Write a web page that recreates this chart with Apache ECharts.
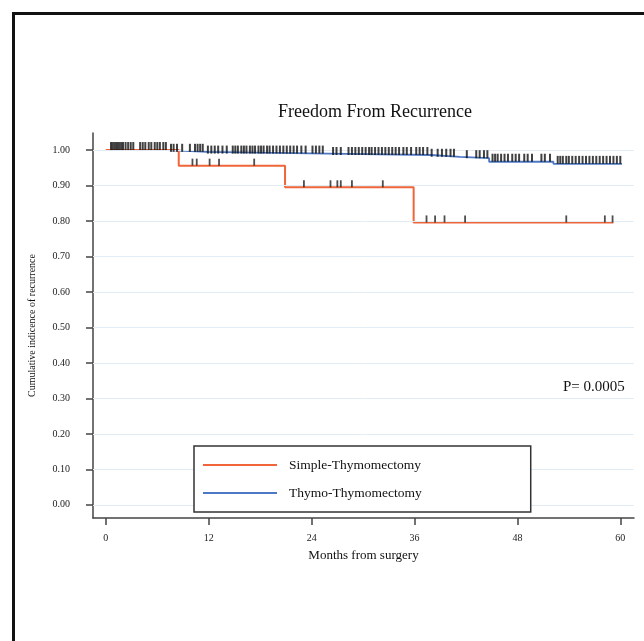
<!DOCTYPE html>
<html>
<head>
<meta charset="utf-8">
<script src="https://cdn.jsdelivr.net/npm/echarts@6/dist/echarts.min.js"></script>
<style>
html,body{margin:0;padding:0;background:#fff;}
#chart{width:644px;height:641px;}
</style>
</head>
<body>
<div id="chart"></div>
<script>
// ---- data ----
const monthTicks = [0, 12, 24, 36, 48, 60];
const yTicks = [0.0, 0.1, 0.2, 0.3, 0.4, 0.5, 0.6, 0.7, 0.8, 0.9, 1.0];

const simpleName = 'Simple-Thymomectomy';
const simpleTimes = [0, 8.5, 20.9, 35.9, 59.2];
const simpleSurv  = [1.0, 0.956, 0.895, 0.796, 0.796];
const simpleCensor = [10.1, 10.6, 12.1, 13.2, 17.3, 23.1, 26.2, 27.0, 27.4, 28.7, 32.3,
  37.4, 38.4, 39.5, 41.9, 53.7, 58.2, 59.1];

const thymoName = 'Thymo-Thymomectomy';
const thymoTimes = [0, 7.2, 11.8, 25.9, 37.9, 41.3, 44.7, 52.2, 60.2];
const thymoSurv  = [1.0, 0.995, 0.990, 0.986, 0.981, 0.977, 0.967, 0.961, 0.961];
const thymoCensor = [0.6, 0.8, 1.0, 1.2, 1.4, 1.6, 1.8, 2.0, 2.3, 2.6, 2.9, 3.2,
  4.0, 4.3, 4.6, 5.0, 5.3, 5.7, 6.0, 6.3, 6.7, 7.0,
  7.6, 7.9, 8.3, 8.9, 9.8,
  10.4, 10.7, 11.0, 11.3, 11.9, 12.3, 12.7, 13.1, 13.6, 14.1,
  14.8, 15.1, 15.4, 15.8, 16.1, 16.4, 16.8, 17.1, 17.4, 17.8, 18.1, 18.4, 18.8, 19.1,
  19.5, 19.9, 20.3, 20.7, 21.1, 21.5, 21.9, 22.3, 22.8, 23.3,
  24.1, 24.5, 24.9, 25.3, 26.5, 26.9, 27.4,
  28.3, 28.7, 29.1, 29.5, 29.9, 30.3, 30.7, 31.0, 31.4, 31.8, 32.2, 32.6, 33.0, 33.4,
  33.8, 34.2, 34.7, 35.1, 35.6, 36.2, 36.6, 37.0, 37.5, 38.0,
  38.7, 39.2, 39.7, 40.2, 40.6, 42.1, 43.2, 43.6, 44.1, 44.5, 45.1, 45.4, 45.7,
  46.1, 46.5, 46.9, 47.4, 47.8, 48.2, 48.8, 49.2, 49.7, 50.8, 51.2, 51.8,
  52.7, 53.0, 53.3, 53.7, 54.0, 54.4, 54.8, 55.2, 55.6, 56.0, 56.4, 56.8, 57.2,
  57.6, 58.0, 58.4, 58.8, 59.2, 59.6, 60.0];

const titleText = 'Freedom From Recurrence';
const xName = 'Months from surgery';
const yName = 'Cumulative indicence of recurrence';
const pText = 'P= 0.0005';

// ---- helpers ----
function levelAt(times, surv, t) {
  let v = surv[0];
  for (let i = 0; i < times.length; i++) { if (times[i] <= t) v = surv[i]; }
  return v;
}
const pairs = (xs, ys) => xs.map((x, i) => [x, ys[i]]);
const censorPts = (c, times, surv) => c.map(t => [t, levelAt(times, surv, t)]);

const SERIF = '"Liberation Serif","Times New Roman",serif';
const RED = '#f0653a';
const BLUE = '#4d78c6';

const chart = echarts.init(document.getElementById('chart'), null, {renderer: 'canvas'});
chart.setOption({
  animation: false,
  backgroundColor: '#fff',
  textStyle: {fontFamily: SERIF},
  graphic: [{
    type: 'rect', left: 11, top: 11, z: 100,
    shape: {width: 700, height: 700},
    style: {fill: 'none', stroke: '#111', lineWidth: 3}
  }],
  title: [
    {text: titleText, left: 370, top: 98, textAlign: 'center',
     textStyle: {fontFamily: SERIF, fontWeight: 'normal', fontSize: 18, color: '#111'}},
    {text: pText, left: 558, top: 375,
     textStyle: {fontFamily: SERIF, fontWeight: 'normal', fontSize: 15, color: '#111'}}
  ],
  legend: {
    orient: 'vertical', left: 194, top: 446, z: 10,
    data: [simpleName, thymoName],
    icon: 'rect', itemWidth: 74, itemHeight: 2, itemGap: 14,
    padding: [12, 109, 12, 9],
    backgroundColor: '#fff',
    borderColor: '#333', borderWidth: 1.5, borderRadius: 0,
    textStyle: {fontFamily: SERIF, fontSize: 13.5, color: '#111', padding: [0, 0, 0, 7]}
  },
  grid: {left: 93, right: 10, top: 133, bottom: 123, containLabel: false},
  xAxis: {
    type: 'value', min: -1.5, max: 61.6,
    name: xName, nameLocation: 'middle', nameGap: 31,
    nameTextStyle: {fontFamily: SERIF, fontSize: 13, color: '#111'},
    axisLine: {show: true, onZero: false, lineStyle: {color: '#444', width: 1.5}},
    axisTick: {show: true, length: 7, inside: false, customValues: monthTicks, lineStyle: {color: '#444', width: 1.5}},
    axisLabel: {customValues: monthTicks, margin: 15, fontFamily: SERIF, fontSize: 10, color: '#222'},
    splitLine: {show: false}
  },
  yAxis: {
    type: 'value', min: -0.037, max: 1.048,
    name: yName, nameLocation: 'middle', nameGap: 56, nameRotate: 90,
    nameTextStyle: {fontFamily: SERIF, fontSize: 10, color: '#111'},
    axisLine: {show: true, onZero: false, lineStyle: {color: '#444', width: 1.5}},
    axisTick: {show: true, length: 7, inside: false, customValues: yTicks, lineStyle: {color: '#444', width: 1.5}},
    axisLabel: {customValues: yTicks, margin: 23, fontFamily: SERIF, fontSize: 10, color: '#222',
      formatter: v => v.toFixed(2)},
    splitLine: {show: false}
  },
  series: [
    {
      type: 'line', name: '__grid', data: [], z: 1, silent: true,
      markLine: {
        silent: true, symbol: ['none', 'none'], animation: false,
        label: {show: false},
        lineStyle: {color: '#e2ecf5', type: 'solid', width: 1},
        data: yTicks.map(v => ({yAxis: v}))
      }
    },
    {
      type: 'line', name: thymoName, step: 'end', showSymbol: false, symbol: 'none', z: 3,
      data: pairs(thymoTimes, thymoSurv),
      lineStyle: {color: BLUE, width: 1.8}, itemStyle: {color: BLUE}
    },
    {
      type: 'line', name: simpleName, step: 'end', showSymbol: false, symbol: 'none', z: 4,
      data: pairs(simpleTimes, simpleSurv),
      lineStyle: {color: RED, width: 2}, itemStyle: {color: RED}
    },
    {
      type: 'scatter', name: 'thymoCensor', z: 5, silent: true,
      symbol: 'rect', symbolSize: [2, 8], symbolOffset: [0, -4],
      itemStyle: {color: '#111'},
      data: censorPts(thymoCensor, thymoTimes, thymoSurv)
    },
    {
      type: 'scatter', name: 'simpleCensor', z: 5, silent: true,
      symbol: 'rect', symbolSize: [1.8, 7], symbolOffset: [0, -3.5],
      itemStyle: {color: '#222'},
      data: censorPts(simpleCensor, simpleTimes, simpleSurv)
    }
  ]
});
</script>
</body>
</html>
